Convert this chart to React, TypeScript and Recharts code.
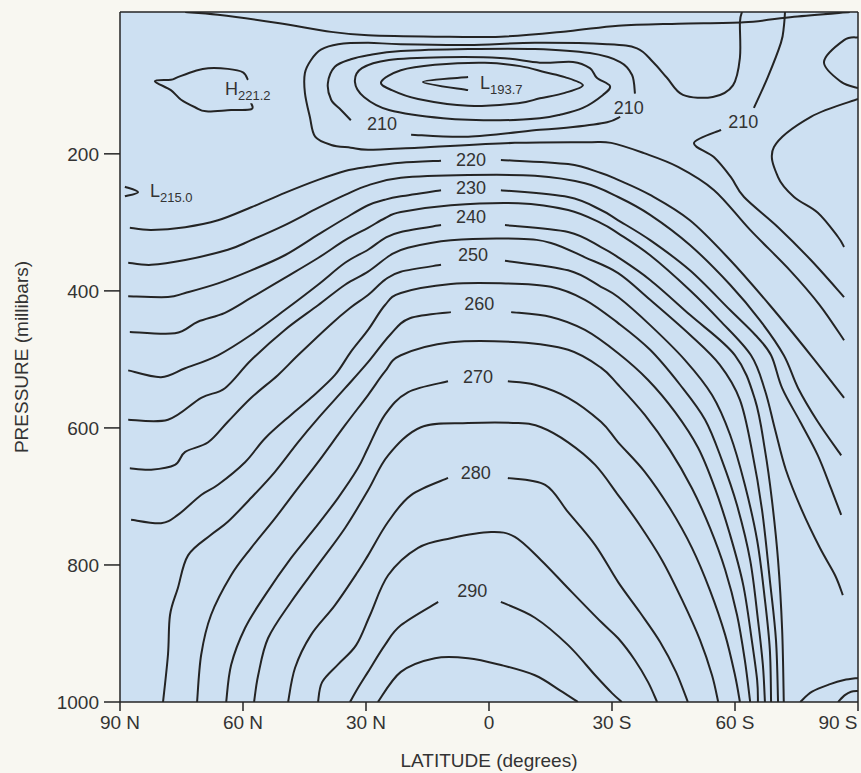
import React from 'react';
import { LineChart, Line, XAxis, YAxis, CartesianGrid, ReferenceDot, ReferenceLine } from 'recharts';

type Pt = [number, number]; // [latitude (N positive), pressure mb]

const latTicks = [90, 60, 30, 0, -30, -60, -90];
const pressureTicks = [200, 400, 600, 800, 1000];

// ---- upper-level contours ----
const cTop: Pt[] = [[74.1,-7],[66.1,-3],[51.5,9],[38.5,22],[29.5,27],[13.2,29],[-2.9,29],[-19.3,21],[-31.5,13],[-46.1,10],[-62.2,8],[-74.4,0],[-88.0,-7]];
const c215: Pt[] = [[-61.7,-7],[-61.2,8],[-61.2,60],[-59.5,100],[-54.6,117],[-47.3,114],[-43.4,89],[-40.0,66],[-36.1,46],[-28.8,40],[-11.2,38],[5.1,41],[21.5,40],[29.5,38],[36.8,40],[41.0,48],[43.4,63],[44.9,82],[44.9,111],[43.7,146],[42.4,175],[38.5,187],[33.7,191],[29.5,194],[17.3,191],[-6.3,184],[-23.7,183],[-29.8,184],[-37.8,199],[-46.1,219],[-54.9,253],[-63.7,311],[-73.4,370],[-80.7,421],[-86.6,472]];
const c210a: Pt[] = [[33.7,151],[36.1,136],[38.5,121],[39.3,97],[37.6,73],[33.7,62],[29.5,56],[21.5,50],[5.1,47],[-11.2,47],[-24.6,53],[-32.0,66],[-34.9,85],[-35.6,112]];
const c210b: Pt[] = [[19.0,172],[5.1,175],[-12.4,165],[-20.5,161],[-28.8,154],[-32.0,146]];
const c205: Pt[] = [[32.7,95],[31.0,75],[24.4,63],[11.2,59],[-2.7,60],[-12.4,67],[-20.5,66],[-24.6,75],[-26.3,89],[-29.5,101],[-27.8,114],[-22.9,133],[-17.3,143],[-12.4,148],[-2.7,151],[11.2,148],[24.4,136],[30.5,117],[32.7,95]];
const c200: Pt[] = [[26.3,95],[21.5,78],[13.2,70],[1.0,67],[-7.6,72],[-13.7,81],[-18.5,88],[-22.9,100],[-18.5,111],[-12.4,119],[-7.1,126],[5.1,130],[17.3,120],[23.7,107],[26.3,95]];
const c195: Pt[] = [[5.1,88],[16.1,95],[5.1,107]];
const c210s1: Pt[] = [[-72.2,-7],[-71.9,15],[-71.2,38],[-68.0,88],[-64.6,133]];
const c210s2: Pt[] = [[-56.6,165],[-50.0,184],[-54.9,205],[-59.0,234],[-62.2,263],[-70.5,307],[-78.5,355],[-86.6,409]];
const cPoleA: Pt[] = [[-90,120],[-78.5,146],[-69.5,190],[-70.5,234],[-74.4,263],[-80.2,286],[-85.1,321],[-86.6,336]];
const cPoleB: Pt[] = [[-90,30],[-86.6,34],[-81.7,66],[-85.9,95],[-90,104]];
const cHigh: Pt[] = [[58.8,92],[60.0,81],[63.7,76],[68.5,75],[71.7,79],[75.9,88],[77.6,92],[81.5,94],[77.6,107],[75.1,121],[71.7,132],[69.0,138],[62.9,136],[58.0,135],[58.0,126]];
const cLow: Pt[] = [[88.8,248],[85.6,256],[88.8,262]];

// ---- tropospheric contours (5 K interval) ----
const c220a: Pt[] = [[87.6,308],[82.4,311],[74.1,307],[66.1,297],[58.0,278],[49.8,257],[41.7,238],[35.1,225],[29.5,219],[21.5,213],[11.7,210]];
const c220b: Pt[] = [[-2.9,209],[-19.3,215],[-27.3,228],[-31.5,238],[-39.3,260],[-49.0,297],[-58.8,355],[-68.5,421],[-78.5,494],[-86.6,556]];
const c225: Pt[] = [[88.0,359],[82.4,362],[74.1,355],[63.7,340],[58.0,326],[49.8,304],[41.7,279],[35.1,260],[29.5,246],[21.5,235],[5.1,231],[-11.2,232],[-23.4,243],[-31.5,263],[-39.3,289],[-49.0,333],[-58.8,391],[-66.1,443],[-71.9,494],[-75.4,542],[-80.2,591],[-85.9,640]];
const c230a: Pt[] = [[88.0,408],[78.3,409],[74.1,403],[66.1,389],[58.0,370],[49.8,348],[41.7,318],[35.1,294],[29.5,275],[25.4,267],[21.5,262],[11.7,253]];
const c230b: Pt[] = [[-2.9,253],[-19.3,263],[-27.3,282],[-31.5,297],[-39.3,326],[-49.0,370],[-58.8,428],[-64.9,464],[-68.8,494],[-71.5,542],[-75.9,591],[-80.2,640],[-83.4,688],[-85.9,727]];
const c235: Pt[] = [[87.6,460],[76.6,462],[71.0,445],[64.4,432],[58.0,410],[49.8,381],[41.7,352],[35.1,326],[29.5,308],[25.4,294],[21.5,285],[9.3,275],[-7.1,272],[-19.3,282],[-27.3,301],[-31.5,316],[-39.3,348],[-49.0,399],[-56.3,443],[-63.9,494],[-67.3,545],[-69.8,603],[-72.4,661],[-76.3,720],[-80.7,775],[-84.4,815],[-86.3,844]];
const c240a: Pt[] = [[88.0,516],[80.0,526],[74.1,513],[66.1,494],[58.0,464],[49.8,428],[41.7,391],[35.1,359],[29.5,340],[25.4,323],[21.5,314],[11.7,304]];
const c240b: Pt[] = [[-3.9,304],[-19.3,314],[-27.3,336],[-31.5,351],[-39.3,384],[-49.0,435],[-60.0,494],[-64.9,559],[-67.3,632],[-69.0,705],[-70.5,793],[-71.5,895],[-71.9,1000]];
const c245: Pt[] = [[88.0,588],[78.3,588],[70.2,556],[64.4,542],[58.0,501],[49.8,457],[41.7,421],[35.1,391],[29.5,372],[24.1,348],[19.8,337],[9.3,326],[-7.1,324],[-15.1,330],[-23.4,351],[-31.5,374],[-39.3,413],[-49.0,464],[-56.3,508],[-61.2,559],[-64.1,632],[-66.6,720],[-68.5,822],[-70.0,910],[-70.5,1000]];
const c250a: Pt[] = [[87.6,659],[82.4,661],[76.6,654],[74.1,635],[68.5,621],[63.7,591],[58.0,556],[51.5,523],[46.6,494],[38.8,450],[33.9,425],[29.5,406],[25.4,384],[21.5,372],[11.7,362]];
const c250b: Pt[] = [[-3.9,356],[-19.3,370],[-27.3,394],[-31.5,409],[-39.3,450],[-47.8,501],[-54.4,552],[-58.8,610],[-62.4,683],[-65.4,764],[-67.3,851],[-68.5,924],[-68.8,1000]];
const c255: Pt[] = [[87.3,734],[80.0,739],[75.9,727],[70.2,698],[66.1,683],[59.5,650],[54.6,615],[48.3,581],[43.4,556],[37.6,523],[33.7,489],[29.5,457],[25.4,421],[21.5,403],[9.3,390],[-2.9,389],[-15.1,394],[-23.4,413],[-31.5,447],[-39.3,486],[-46.6,537],[-52.7,588],[-56.8,647],[-60.5,713],[-63.7,793],[-65.6,880],[-66.8,946],[-67.3,1000]];
const c260a: Pt[] = [[79.5,1000],[78.3,931],[77.8,873],[75.9,834],[73.4,786],[67.8,756],[63.7,737],[58.0,702],[52.2,664],[46.6,621],[41.7,586],[35.1,542],[29.5,504],[24.1,464],[19.3,440],[9.3,431]];
const c260b: Pt[] = [[-5.4,431],[-15.1,438],[-23.4,457],[-31.5,491],[-38.8,530],[-45.4,577],[-51.0,629],[-55.1,688],[-58.8,756],[-62.0,829],[-64.1,910],[-65.4,968],[-65.6,1000]];
const c265: Pt[] = [[71.2,1000],[70.2,931],[67.8,873],[62.9,815],[58.0,775],[52.2,732],[46.6,688],[41.7,650],[35.1,596],[29.5,552],[25.4,518],[21.5,494],[9.3,475],[-7.1,475],[-19.3,486],[-27.3,512],[-31.5,537],[-38.0,581],[-44.1,632],[-49.5,688],[-53.9,746],[-57.6,807],[-60.5,873],[-62.4,939],[-63.7,1000]];
const c270a: Pt[] = [[64.1,1000],[62.9,946],[59.5,892],[54.6,844],[48.3,790],[42.4,746],[36.8,702],[32.0,659],[29.5,629],[25.4,581],[19.8,548],[10.0,532]];
const c270b: Pt[] = [[-4.6,532],[-11.2,537],[-19.3,556],[-27.3,591],[-31.5,621],[-38.0,664],[-44.1,717],[-49.5,775],[-53.9,837],[-57.6,902],[-60.0,961],[-61.2,1000]];
const c275: Pt[] = [[57.3,1000],[56.3,961],[53.9,907],[48.3,854],[41.7,800],[35.1,746],[29.5,691],[24.6,640],[16.6,599],[5.1,593],[-7.1,593],[-12.7,599],[-19.3,621],[-25.9,654],[-31.5,698],[-36.8,742],[-42.2,793],[-47.1,851],[-51.5,910],[-54.4,961],[-55.9,1000]];
const c280a: Pt[] = [[49.0,1000],[47.3,950],[43.4,902],[37.6,859],[32.0,810],[29.5,786],[24.6,737],[19.0,698],[10.0,673]];
const c280b: Pt[] = [[-4.6,673],[-13.7,683],[-19.3,723],[-25.9,771],[-31.5,825],[-36.8,869],[-41.7,912],[-45.6,956],[-48.5,1000]];
const c285: Pt[] = [[41.7,1000],[40.7,971],[36.8,945],[32.4,917],[29.0,873],[24.6,815],[17.3,775],[9.3,761],[-0.5,752],[-6.3,759],[-12.7,793],[-19.3,834],[-27.3,883],[-31.5,907],[-35.6,939],[-38.8,971],[-41.0,1000]];
const c290a: Pt[] = [[33.9,1000],[32.0,980],[29.5,956],[25.4,917],[21.5,888],[12.4,854]];
const c290b: Pt[] = [[-2.9,854],[-11.2,877],[-19.3,917],[-25.9,961],[-30.0,987],[-32.4,1000]];
const c295: Pt[] = [[27.1,1000],[21.5,956],[13.2,936],[5.1,936],[-2.9,946],[-11.2,961],[-17.3,983],[-21.7,1000]];
const cSfc1: Pt[] = [[-75.9,1000],[-78.8,985],[-83.2,974],[-86.6,968],[-90,965]];
const cSfc2: Pt[] = [[-85.1,1000],[-86.8,990],[-88.3,985],[-90,984]];

const contourSegments: Pt[][] = [
  cTop, c215, c210a, c210b, c205, c200, c195, c210s1, c210s2, cPoleA, cPoleB, cHigh, cLow,
  c220a, c220b, c225, c230a, c230b, c235, c240a, c240b, c245, c250a, c250b, c255,
  c260a, c260b, c265, c270a, c270b, c275, c280a, c280b, c285, c290a, c290b, c295, cSfc1, cSfc2,
];

// contour value labels: [text, lat, pressure]
const isoLabels: [string, number, number][] = [
  ['210', 26.1, 156], ['210', -34.1, 133], ['210', -62.0, 153],
  ['220', 4.4, 209], ['230', 4.4, 250], ['240', 4.4, 292], ['250', 3.9, 348],
  ['260', 2.4, 419], ['270', 2.7, 526], ['280', 3.2, 666], ['290', 4.1, 838],
];
// extrema: [letter, value, lat, pressure]
const extrema: [string, string, number, number][] = [
  ['H', '221.2', 64.4, 105], ['L', '193.7', 2.2, 97], ['L', '215.0', 82.7, 254],
];

const fmtLat = (v: number) => (v === 0 ? '0' : v > 0 ? `${v} N` : `${-v} S`);
const INK = '#242424';
const TXT = '#333333';
const FONT = '"Liberation Sans", Arial, Helvetica, sans-serif';
const AXIS_FS = 19;

// smooth Catmull-Rom style curve through every point (d3 curve-factory interface)
function smoothCurve(context: any) {
  let pts: [number, number][] = [];
  return {
    areaStart() {},
    areaEnd() {},
    lineStart() { pts = []; },
    point(x: number, y: number) { pts.push([+x, +y]); },
    lineEnd() {
      const n = pts.length;
      if (!n) return;
      context.moveTo(pts[0][0], pts[0][1]);
      if (n < 3) { for (let i = 1; i < n; i++) context.lineTo(pts[i][0], pts[i][1]); return; }
      const closed = Math.abs(pts[0][0] - pts[n - 1][0]) < 0.5 && Math.abs(pts[0][1] - pts[n - 1][1]) < 0.5;
      for (let i = 0; i < n - 1; i++) {
        const p0 = i > 0 ? pts[i - 1] : closed ? pts[n - 2] : pts[i];
        const p1 = pts[i];
        const p2 = pts[i + 1];
        const p3 = i + 2 < n ? pts[i + 2] : closed ? pts[1] : p2;
        context.bezierCurveTo(
          p1[0] + (p2[0] - p0[0]) / 6, p1[1] + (p2[1] - p0[1]) / 6,
          p2[0] - (p3[0] - p1[0]) / 6, p2[1] - (p3[1] - p1[1]) / 6,
          p2[0], p2[1]
        );
      }
    },
  };
}

const isoShape = (text: string) => (props: any) => (
  <text x={props.cx} y={props.cy} textAnchor="middle" dominantBaseline="central" fontSize={18} fill={TXT} fontFamily={FONT}>
    {text}
  </text>
);
const extShape = (letter: string, val: string) => (props: any) => (
  <text x={props.cx} y={props.cy} dominantBaseline="central" fontSize={18} fill={TXT} fontFamily={FONT}>
    <tspan>{letter}</tspan>
    <tspan fontSize={13} dy={6}>{val}</tspan>
  </text>
);

const LatTick = (props: any) => {
  const { x, y, payload } = props;
  const v = payload.value;
  const dx = v === -90 ? -20 : 0;
  return (
    <text x={x + dx} y={y} dy="0.71em" textAnchor="middle" fill={TXT} fontSize={AXIS_FS} fontFamily={FONT}>
      {fmtLat(v)}
    </text>
  );
};

export default function App() {
  return (
    <div style={{ position: 'absolute', left: 0, top: 0, width: 861, height: 773, background: '#f8f7f1', fontFamily: FONT }}>
      <LineChart width={861} height={773} margin={{ top: 12, right: 3, left: 0, bottom: 0 }}>
        <CartesianGrid horizontal={false} vertical={false} fill="#cde0f2" fillOpacity={1} stroke="none" />
        <XAxis
          type="number"
          dataKey="lat"
          domain={[-90, 90]}
          reversed
          allowDataOverflow
          ticks={latTicks}
          interval={0}
          height={71}
          tickSize={9}
          tickMargin={5}
          tick={<LatTick />}
          axisLine={{ stroke: INK, strokeWidth: 1.5 }}
          tickLine={{ stroke: INK, strokeWidth: 1.5 }}
          label={{ value: 'LATITUDE (degrees)', position: 'insideBottom', offset: 6, style: { fontSize: AXIS_FS, fill: TXT, fontFamily: FONT } }}
        />
        <YAxis
          type="number"
          dataKey="p"
          domain={[-7, 1000]}
          reversed
          allowDataOverflow
          ticks={pressureTicks}
          interval={0}
          width={120}
          tickSize={16}
          tickMargin={5}
          tick={{ fill: TXT, fontSize: AXIS_FS, fontFamily: FONT }}
          axisLine={{ stroke: INK, strokeWidth: 1.5 }}
          tickLine={{ stroke: INK, strokeWidth: 1.5 }}
          label={{ value: 'PRESSURE (millibars)', angle: -90, position: 'insideLeft', offset: 21, style: { textAnchor: 'middle', fontSize: AXIS_FS, fill: TXT, fontFamily: FONT } }}
        />
        <ReferenceLine y={-7} stroke={INK} strokeWidth={1.5} />
        <ReferenceLine x={-90} stroke={INK} strokeWidth={1.5} />
        {contourSegments.map((seg, i) => (
          <Line
            key={i}
            data={seg.map(([lat, p]) => ({ lat, p }))}
            dataKey="p"
            type={smoothCurve as any}
            stroke={INK}
            strokeWidth={2}
            dot={false}
            activeDot={false}
            isAnimationActive={false}
          />
        ))}
        {isoLabels.map(([t, lat, p], i) => (
          <ReferenceDot key={'iso' + i} x={lat} y={p} r={0} shape={isoShape(t)} />
        ))}
        {extrema.map(([l, v, lat, p], i) => (
          <ReferenceDot key={'ext' + i} x={lat} y={p} r={0} shape={extShape(l, v)} />
        ))}
      </LineChart>
    </div>
  );
}
